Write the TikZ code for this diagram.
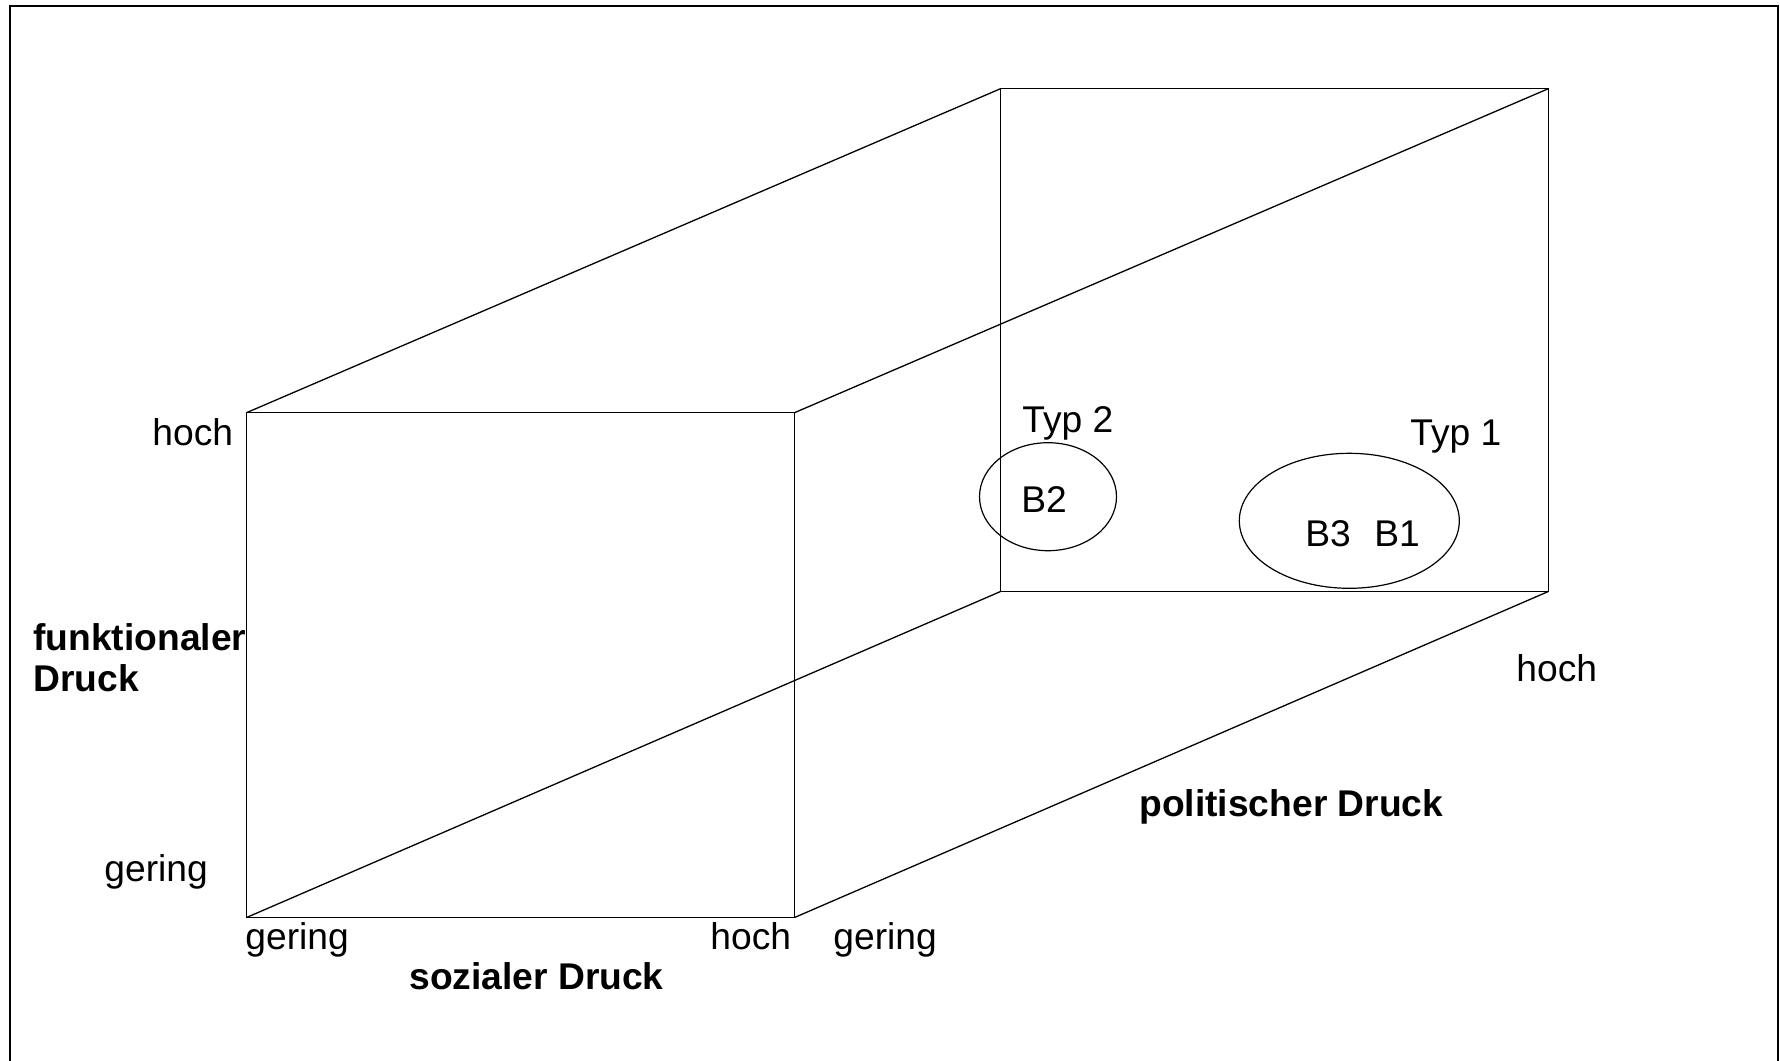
\documentclass[tikz,border=0pt]{standalone}
\usepackage{fontspec}
\setmainfont{Liberation Sans}
\usetikzlibrary{shapes.geometric}
\begin{document}
\begin{tikzpicture}[x=0.5pt,y=-0.5pt,
  edge/.style={line width=0.65pt, black},
  frame/.style={line width=1.1pt, black},
  lbl/.style={inner sep=0pt, anchor=base west, font=\fontsize{18.6}{20.4}\selectfont},
  blbl/.style={lbl, font=\fontsize{18.6}{20.4}\selectfont\bfseries, align=left},
  group/.style={ellipse, draw, line width=0.6pt, inner sep=0pt}]
\useasboundingbox (0,0) rectangle (1780,1060);
\draw[frame] (10,6) rectangle (1778,1064);
% front face
\coordinate (fa) at (246.5,412.7);
\coordinate (fb) at (794.5,412.7);
\coordinate (fc) at (794.5,917.5);
\coordinate (fd) at (246.5,917.5);
% back face
\coordinate (ba) at (1000.5,88.7);
\coordinate (bb) at (1548.3,88.7);
\coordinate (bc) at (1548.3,591.5);
\coordinate (bd) at (1000.5,591.5);
\draw[edge] (fa) -- (fb) -- (fc) -- (fd) -- cycle;
\draw[edge] (ba) -- (bb) -- (bc) -- (bd) -- cycle;
\draw[edge] (fa) -- (ba);
\draw[edge] (fb) -- (bb);
\draw[edge] (fc) -- (bc);
\draw[edge] (fd) -- (bd);
% ellipses
\node[group, minimum width=137pt*0.5, minimum height=108pt*0.5] (e2) at (1048,496.7) {};
\node[group, minimum width=220pt*0.5, minimum height=135pt*0.5] (e1) at (1349.3,520.8) {};
% labels
\node[lbl] (typ2) at (1022,432) {Typ 2};
\node[lbl] (b2) at (1021,512.7) {B2};
\node[lbl] (typ1) at (1410,445) {Typ 1};
\node[lbl] (b3) at (1305,546.7) {B3};
\node[lbl] (b1) at (1374,546.7) {B1};
\node[lbl] (hochL) at (152,445) {hoch};
\node[blbl] (fd1) at (33,691.7) {funktionaler\\Druck};
\node[lbl] (geringL) at (104,881) {gering};
\node[lbl] (geringB) at (245,949) {gering};
\node[lbl] (hochB) at (710,949) {hoch};
\node[lbl] (geringR) at (833,949) {gering};
\node[blbl] (sozial) at (409,989) {sozialer Druck};
\node[blbl] (polit) at (1139,816) {politischer Druck};
\node[lbl] (hochR) at (1516,681) {hoch};
\end{tikzpicture}
\end{document}
